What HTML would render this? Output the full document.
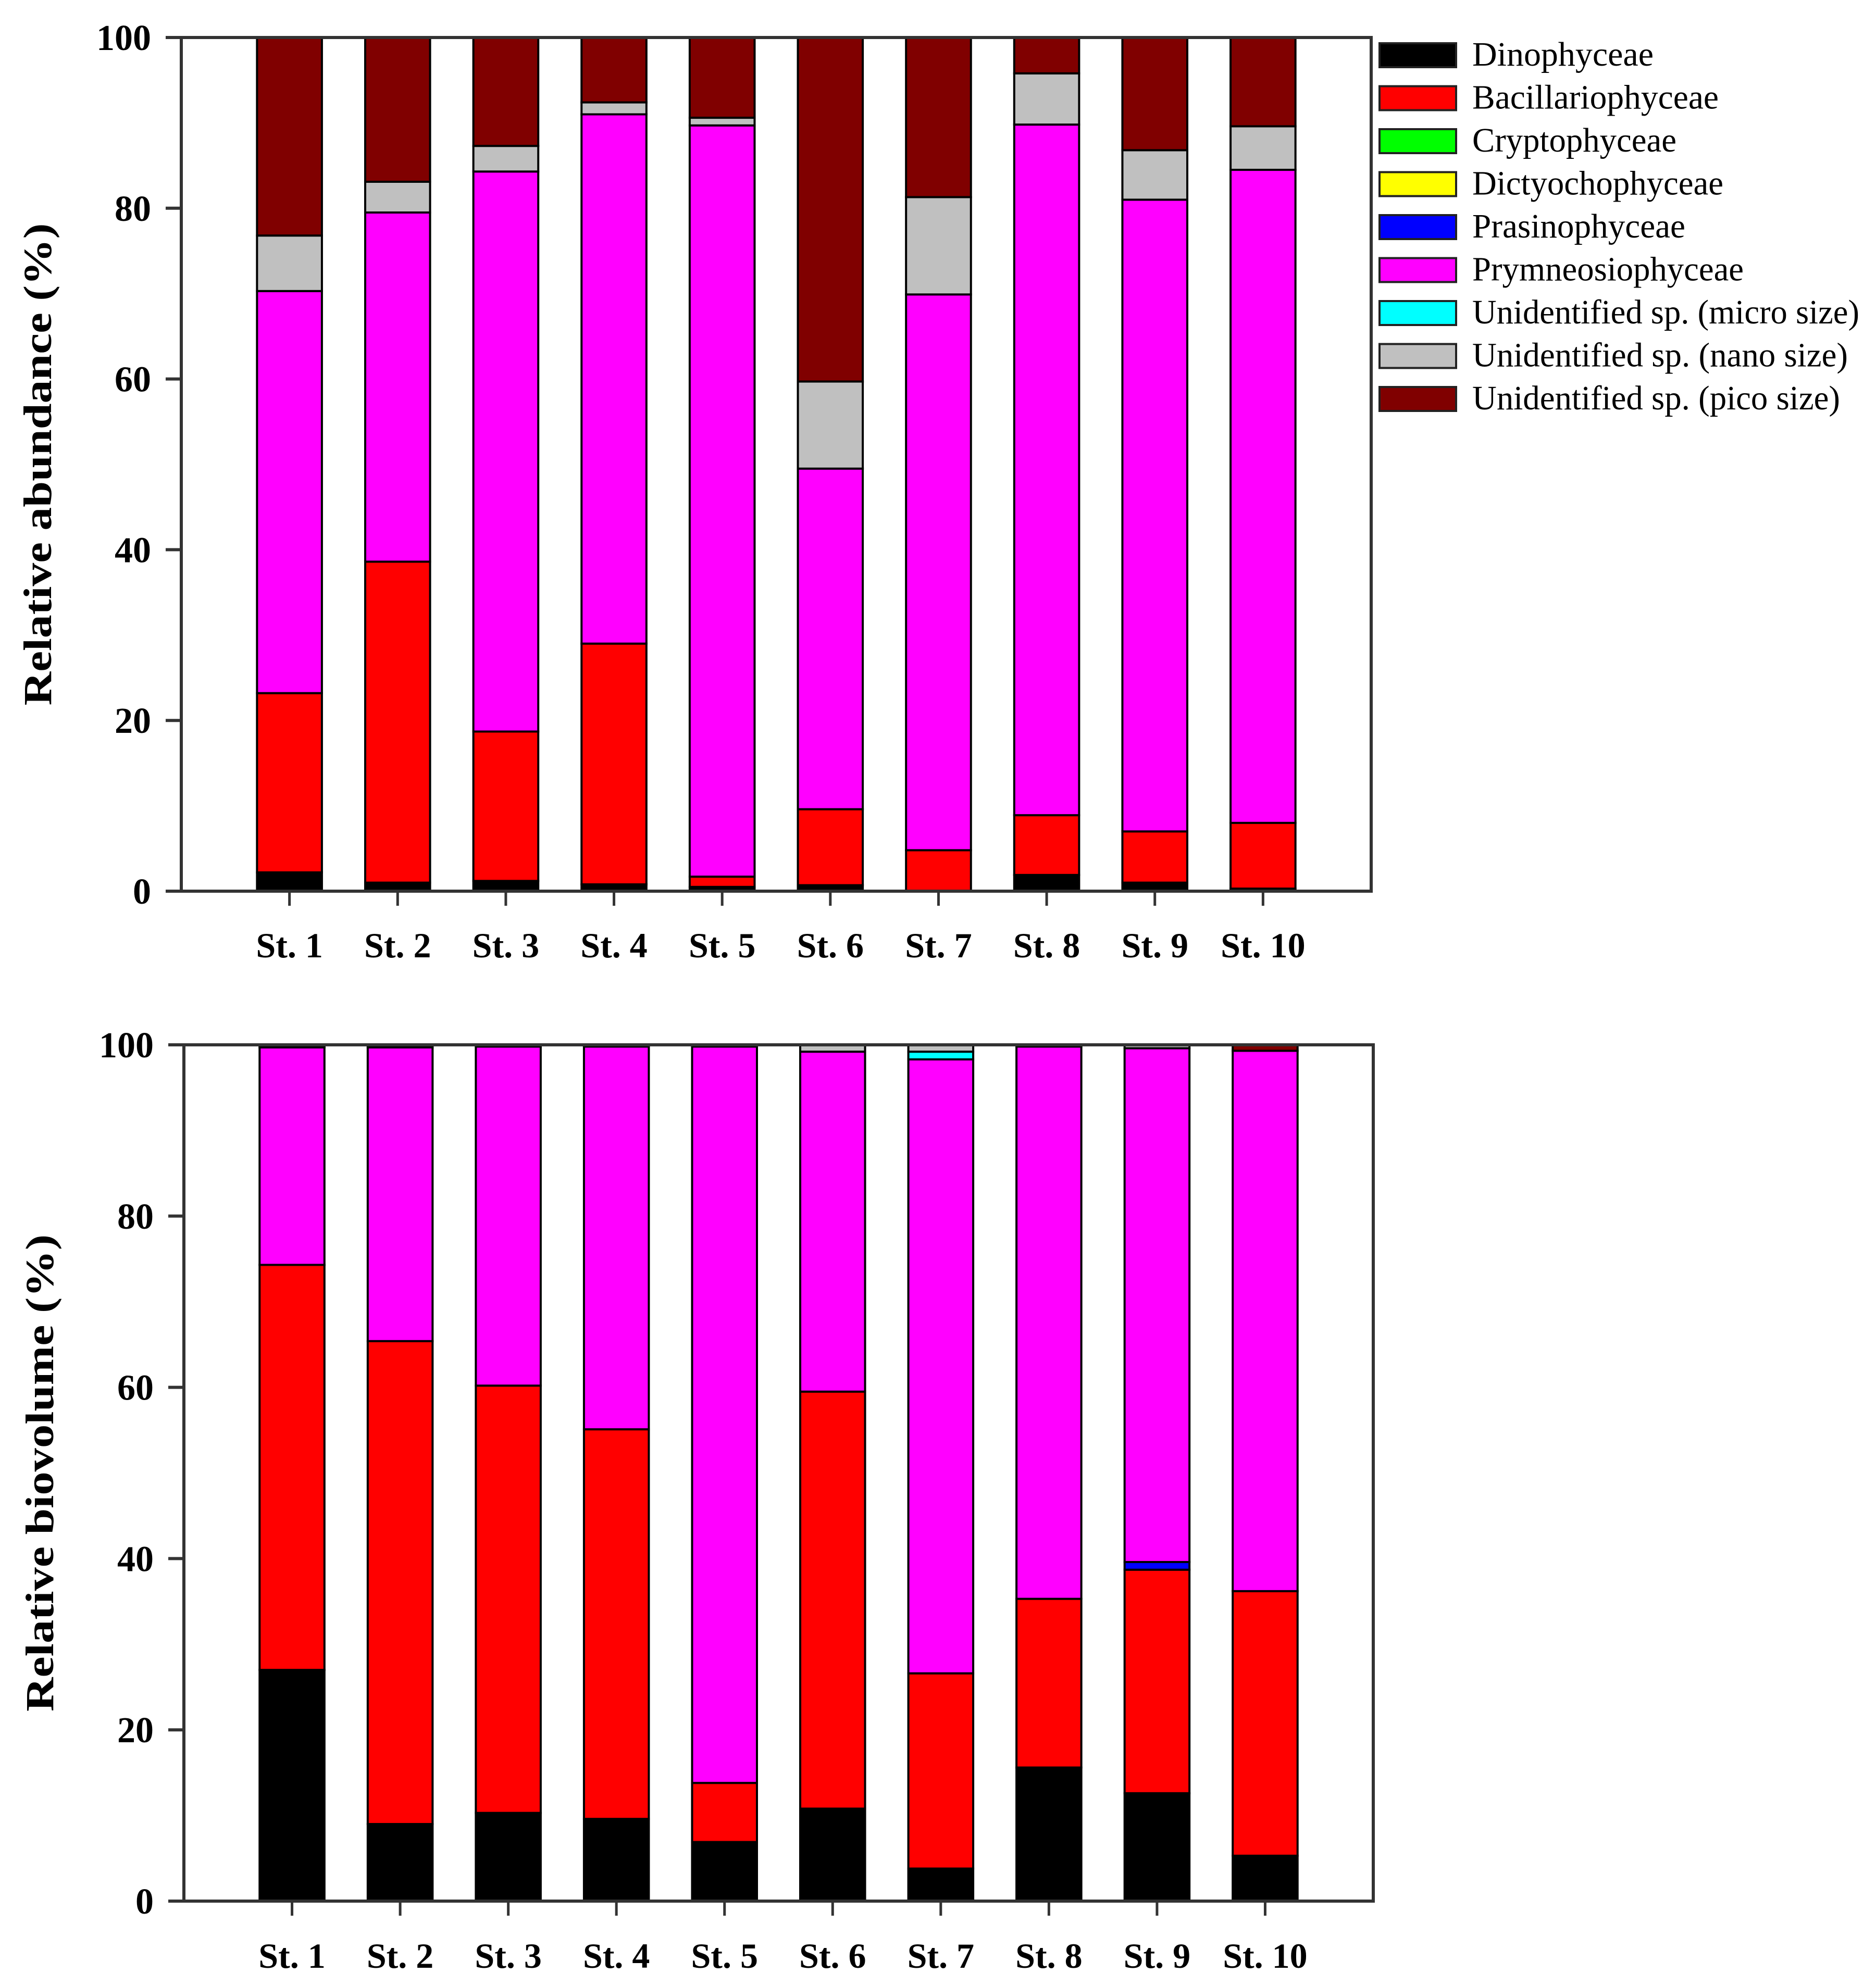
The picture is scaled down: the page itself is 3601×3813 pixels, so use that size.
<!DOCTYPE html>
<html><head><meta charset="utf-8"><style>
html,body{margin:0;padding:0;background:#fff}
svg{display:block}
text{font-family:"Liberation Serif","Times New Roman",serif;fill:#000}
</style></head><body>
<svg id="chart" width="3601" height="3813" viewBox="0 0 3601 3813" xmlns="http://www.w3.org/2000/svg"></svg>
<script>
const stations = ["St. 1","St. 2","St. 3","St. 4","St. 5","St. 6","St. 7","St. 8","St. 9","St. 10"];
const groups = ["Dinophyceae","Bacillariophyceae","Cryptophyceae","Dictyochophyceae","Prasinophyceae","Prymneosiophyceae","Unidentified sp. (micro size)","Unidentified sp. (nano size)","Unidentified sp. (pico size)"];
const colors = ["#000000","#ff0000","#00ff00","#ffff00","#0000ff","#ff00ff","#00ffff","#c0c0c0","#800000"];
const yTicks = [0,20,40,60,80,100];
// abundance (%) per group, per station
const abDino   = [2.2,1.0,1.2,0.8,0.5,0.7,0.0,1.9,1.0,0.3];
const abBac    = [21.0,37.6,17.5,28.2,1.2,8.9,4.8,7.0,6.0,7.7];
const abCrypto = [0,0,0,0,0,0,0,0,0,0];
const abDict   = [0,0,0,0,0,0,0,0,0,0];
const abPras   = [0,0,0,0,0,0,0,0,0,0];
const abPrym   = [47.1,40.9,65.6,62.0,88.0,39.9,65.1,80.9,74.0,76.5];
const abMicro  = [0,0,0,0,0,0,0,0,0,0];
const abNano   = [6.5,3.6,3.0,1.4,0.9,10.2,11.4,6.0,5.8,5.1];
const abPico   = [23.2,16.9,12.7,7.6,9.4,40.3,18.7,4.2,13.2,10.4];
// biovolume (%)
const bvDino   = [27.0,9.0,10.3,9.6,6.9,10.8,3.8,15.6,12.6,5.3];
const bvBac    = [47.3,56.4,49.9,45.5,6.9,48.7,22.8,19.7,26.1,30.9];
const bvCrypto = [0,0,0,0,0,0,0,0,0,0];
const bvDict   = [0,0,0,0,0,0,0,0,0,0];
const bvPras   = [0,0,0,0,0,0,0,0,0.9,0];
const bvPrym   = [25.4,34.3,39.6,44.7,86.0,39.7,71.7,64.5,60.0,63.1];
const bvMicro  = [0,0,0,0,0,0,0.9,0,0,0];
const bvNano   = [0,0,0.2,0.2,0,0.8,0.8,0,0.4,0];
const bvPico   = [0.3,0.3,0,0,0.2,0,0,0.2,0,0.7];

const NS="http://www.w3.org/2000/svg";
const svg=document.getElementById('chart');
function mk(tag,attrs,parent){const e=document.createElementNS(NS,tag);for(const k in attrs)e.setAttribute(k,attrs[k]);(parent||svg).appendChild(e);return e;}

function drawChart(cfg){
  const g=mk('g',{});
  
  
  const {L,R,T,B}=cfg;
  const n=stations.length;
  const xs=i=>L+(R-L)*(i+1)/(n+1);
  const ys=v=>B-(B-T)*v/100;
  const bw=(R-L)/(n+1)*0.6;
  for(let i=0;i<n;i++){
    let acc=0;
    for(let k=0;k<groups.length;k++){
      const v=cfg.series[k][i];
      if(v<=0)continue;
      const r=mk('rect',{x:xs(i)-bw/2,y:ys(acc+v),width:bw,height:ys(acc)-ys(acc+v),fill:colors[k],stroke:'#000','stroke-width':4},g);
      
      
      acc+=v;
    }
  }
  const ax=mk('path',{d:`M${L-30},${B}H${R}V${T}H${L-30}M${L},${T}V${B}`,fill:'none',stroke:'#333','stroke-width':6},g);
  
  
  yTicks.forEach(t=>{
    const tk=mk('line',{x1:L-30,x2:L,y1:ys(t),y2:ys(t),stroke:'#333','stroke-width':6},g);
    
    
    const tx=mk('text',{x:L-58,y:ys(t)+24,'text-anchor':'end','font-size':70,'font-weight':'bold'},g);
    
    
    tx.textContent=t;
  });
  stations.forEach((s,i)=>{
    const tk=mk('line',{x1:xs(i),x2:xs(i),y1:B,y2:B+28,stroke:'#333','stroke-width':5},g);
    
    
    const tx=mk('text',{x:xs(i),y:cfg.labelY,'text-anchor':'middle','font-size':68,'font-weight':'bold'},g);
    
    
    tx.textContent=s;
  });
  const yt=mk('text',{x:0,y:0,'text-anchor':'middle','font-size':76,'font-weight':'bold',textLength:cfg.titleLen,lengthAdjust:'spacingAndGlyphs',transform:`translate(${cfg.titleX},${(T+B)/2}) rotate(-90)`},g);
  
  
  yt.textContent=cfg.title;
}

drawChart({name:'abundance-chart',L:348,R:2632,T:72,B:1711,labelY:1838,title:'Relative abundance (%)',titleX:98,titleLen:926,
  series:[abDino,abBac,abCrypto,abDict,abPras,abPrym,abMicro,abNano,abPico]});
drawChart({name:'biovolume-chart',L:353,R:2636,T:2006,B:3650,labelY:3778,title:'Relative biovolume (%)',titleX:102,titleLen:916,
  series:[bvDino,bvBac,bvCrypto,bvDict,bvPras,bvPrym,bvMicro,bvNano,bvPico]});

const lg=mk('g',{});


const legendLens=[348,473,392,482,409,521,743,721,706];
groups.forEach((gname,k)=>{
  const cy=106+k*82.5;
  const sw=mk('rect',{x:2648,y:cy-23,width:147,height:46,fill:colors[k],stroke:'#222','stroke-width':4},lg);
  
  
  const tx=mk('text',{x:2826,y:cy+20,'font-size':66,textLength:legendLens[k],lengthAdjust:'spacingAndGlyphs'},lg);
  
  
  tx.textContent=gname;
});
</script>
</body></html>
